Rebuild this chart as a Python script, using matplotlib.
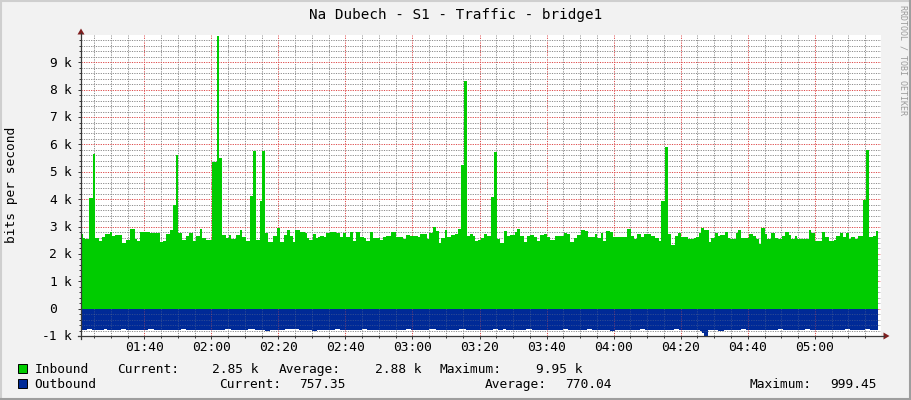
import matplotlib
matplotlib.use("Agg")
import matplotlib.pyplot as plt
import matplotlib.transforms as mtrans
from matplotlib.patches import Rectangle, Polygon
from matplotlib.lines import Line2D

# ---------------- data (minutes after midnight, values in k bits/s) -------------
in_start = [
    81.1, 81.6, 82.4, 83.5, 84.7, 85.3, 86.6, 87.4, 88.2, 89.7,
    90.4, 91.4, 93.3, 94.4, 95.6, 97.1, 97.8, 98.6, 101.6, 104.6,
    105.6, 106.4, 107.6, 108.6, 109.5, 110.2, 111.3, 112.5, 113.3, 114.5,
    115.5, 116.5, 117.2, 118.5, 120.2, 121.6, 122.3, 123.2, 124.5, 125.3,
    126.0, 127.4, 128.4, 129.2, 130.4, 131.4, 132.4, 133.2, 134.4, 135.2,
    136.1, 137.0, 138.4, 139.6, 140.4, 141.6, 142.6, 143.4, 144.4, 145.1,
    146.3, 147.8, 148.5, 149.1, 150.3, 151.1, 151.8, 152.5, 153.6, 154.3,
    155.3, 157.3, 158.3, 159.3, 160.3, 161.3, 162.3, 163.2, 164.4, 165.5,
    166.2, 167.4, 168.2, 170.2, 171.2, 172.2, 173.5, 175.0, 177.2, 178.2,
    179.2, 181.6, 182.3, 184.3, 184.9, 186.1, 187.1, 187.9, 188.6, 189.6,
    190.4, 191.6, 192.6, 193.6, 194.4, 195.4, 196.4, 197.2, 198.0, 198.7,
    199.5, 200.3, 201.2, 202.3, 203.3, 204.3, 205.2, 206.2, 207.3, 208.3,
    209.2, 210.5, 211.3, 212.2, 213.2, 214.2, 215.2, 216.1, 217.1, 218.1,
    219.1, 220.1, 221.1, 222.4, 225.2, 226.1, 227.1, 228.1, 229.1, 230.4,
    231.4, 232.4, 233.4, 234.3, 235.1, 236.1, 236.8, 237.8, 238.8, 239.8,
    241.3, 244.1, 245.1, 246.1, 247.1, 248.3, 249.1, 251.2, 252.2, 253.4,
    254.2, 255.2, 256.2, 257.2, 258.2, 259.2, 260.0, 262.2, 264.0, 264.7,
    265.4, 266.2, 267.0, 268.3, 269.1, 270.1, 271.1, 271.8, 273.1, 274.1,
    274.6, 276.4, 277.1, 278.1, 280.4, 281.6, 282.6, 283.3, 284.0, 285.2,
    285.8, 287.0, 288.2, 289.0, 290.2, 291.2, 292.2, 293.0, 294.0, 294.8,
    298.2, 299.0, 300.0, 302.1, 303.1, 304.1, 305.7, 306.4, 307.4, 308.4,
    309.4, 310.2, 310.7, 311.9, 312.9, 314.4, 315.4, 316.1, 317.4, 318.4,
]
in_vals = [
    2.73, 2.57, 2.55, 4.03, 5.65, 2.57, 2.48, 2.63, 2.73, 2.81,
    2.66, 2.69, 2.39, 2.51, 2.91, 2.55, 2.48, 2.81, 2.78, 2.45,
    2.48, 2.73, 2.87, 3.79, 5.61, 2.78, 2.51, 2.66, 2.75, 2.48,
    2.66, 2.91, 2.57, 2.51, 5.37, 9.95, 5.52, 2.69, 2.57, 2.69,
    2.55, 2.69, 2.87, 2.63, 2.48, 4.13, 5.77, 2.51, 3.93, 5.77,
    2.78, 2.45, 2.66, 2.96, 2.45, 2.69, 2.87, 2.67, 2.45, 2.87,
    2.81, 2.75, 2.57, 2.51, 2.73, 2.57, 2.63, 2.66, 2.61, 2.75,
    2.81, 2.75, 2.63, 2.78, 2.61, 2.79, 2.48, 2.81, 2.63, 2.57,
    2.48, 2.81, 2.57, 2.51, 2.63, 2.66, 2.81, 2.61, 2.55, 2.69,
    2.66, 2.61, 2.73, 2.55, 2.75, 3.00, 2.84, 2.39, 2.57, 2.87,
    2.63, 2.69, 2.73, 2.91, 5.25, 8.32, 2.66, 2.73, 2.66, 2.48,
    2.50, 2.57, 2.73, 2.67, 4.09, 5.72, 2.55, 2.41, 2.84, 2.67,
    2.71, 2.79, 2.91, 2.66, 2.45, 2.66, 2.69, 2.61, 2.47, 2.69,
    2.73, 2.61, 2.51, 2.66, 2.78, 2.73, 2.45, 2.57, 2.69, 2.87,
    2.85, 2.63, 2.61, 2.73, 2.57, 2.75, 2.48, 2.85, 2.81, 2.63,
    2.61, 2.91, 2.66, 2.55, 2.73, 2.63, 2.73, 2.67, 2.57, 2.47,
    3.93, 5.92, 2.73, 2.33, 2.66, 2.78, 2.61, 2.55, 2.57, 2.63,
    2.78, 2.94, 2.87, 2.45, 2.57, 2.75, 2.67, 2.69, 2.79, 2.57,
    2.55, 2.75, 2.87, 2.57, 2.73, 2.67, 2.53, 2.36, 2.94, 2.73,
    2.53, 2.78, 2.57, 2.55, 2.66, 2.79, 2.69, 2.55, 2.66, 2.55,
    2.87, 2.78, 2.47, 2.79, 2.63, 2.47, 2.51, 2.67, 2.75, 2.63,
    2.75, 2.55, 2.61, 2.55, 2.67, 3.97, 5.80, 2.61, 2.66, 2.84,
]
in_end = 318.9

out_start = [
    81.1, 83.0, 84.5, 88.0, 89.0, 93.0, 94.5, 99.0, 101.0, 103.0,
    106.0, 108.0, 111.0, 112.5, 118.0, 120.0, 124.0, 126.0, 131.0, 133.0,
    136.0, 137.5, 142.0, 144.0, 146.0, 150.0, 151.5, 157.0, 158.5, 165.0,
    166.5, 171.0, 173.0, 178.0, 179.5, 185.0, 187.0, 192.0, 194.0, 196.0,
    201.0, 204.0, 205.5, 207.0, 208.0, 214.0, 215.5, 225.0, 226.5, 232.0,
    233.5, 239.0, 240.5, 248.0, 249.5, 258.0, 259.5, 265.7, 266.5, 267.1,
    268.2, 271.0, 273.0, 278.0, 279.5, 289.0, 290.5, 297.0, 298.5, 309.0,
    310.5, 315.0, 316.5,
]
out_vals = [
    0.77, 0.74, 0.77, 0.75, 0.78, 0.74, 0.77, 0.78, 0.75, 0.77,
    0.76, 0.78, 0.75, 0.77, 0.79, 0.77, 0.74, 0.77, 0.73, 0.77,
    0.80, 0.77, 0.73, 0.75, 0.77, 0.80, 0.77, 0.75, 0.77, 0.75,
    0.78, 0.76, 0.77, 0.74, 0.77, 0.75, 0.78, 0.77, 0.75, 0.77,
    0.77, 0.74, 0.77, 0.74, 0.77, 0.74, 0.77, 0.75, 0.77, 0.74,
    0.77, 0.80, 0.77, 0.74, 0.77, 0.75, 0.78, 0.82, 0.90, 1.00,
    0.77, 0.80, 0.77, 0.74, 0.77, 0.75, 0.77, 0.74, 0.77, 0.75,
    0.77, 0.74, 0.76,
]
out_end = 318.9

x_major = [100, 120, 140, 160, 180, 200, 220, 240, 260, 280, 300]
x_labels = ["01:40", "02:00", "02:20", "02:40", "03:00", "03:20",
            "03:40", "04:00", "04:20", "04:40", "05:00"]
y_ticks = [-1, 0, 1, 2, 3, 4, 5, 6, 7, 8, 9]
y_labels = ["-1 k", "0", "1 k", "2 k", "3 k", "4 k", "5 k", "6 k", "7 k", "8 k", "9 k"]

title = "Na Dubech - S1 - Traffic - bridge1"
y_title = "bits per second"
watermark = "RRDTOOL / TOBI OETIKER"
series_names = ["Inbound", "Outbound"]
in_stats = ["2.85 k", "2.88 k", "9.95 k"]
out_stats = ["757.35", "770.04", "999.45"]

# ---------------- styling ----------------
W, H = 911, 400
FONT = "DejaVu Sans Mono"
FS = 9.3
C_IN = "#00CC00"
C_OUT = "#002A97"
C_BACK = "#F2F2F2"
C_AXIS = "#3a3a3a"
C_ARROW = "#801F1F"
PX = 0.72  # one pixel in points
C_MINOR = (0.56, 0.56, 0.56, 0.30)
C_MAJOR = (0.87, 0.31, 0.31, 0.42)
DOT = (0, (1.2, 1.2))


def fx(px):
    return px / W


def fy(py):
    return 1 - py / H


fig = plt.figure(figsize=(W / 100, H / 100), dpi=100, facecolor=C_BACK)

ax_l, ax_r, ax_t, ax_b = 81, 881, 35.45, 336.08
ax = fig.add_axes([fx(ax_l), fy(ax_b), (ax_r - ax_l) / W, (ax_b - ax_t) / H])
ax.set_facecolor("white")
ax.set_xlim(81.12, 319.75)
ax.set_ylim(-1.0, 9.98)

ax.stairs(in_vals, in_start + [in_end], fill=True, color=C_IN, baseline=0,
          lw=0, zorder=2)
out_patch = ax.stairs([-v for v in out_vals], out_start + [out_end], fill=True,
                      color=C_OUT, baseline=0, lw=0, zorder=2)

# grid: below the data, plus a copy visible through the outbound area
x_minor = [m for m in range(85, 320, 5) if m not in x_major]
y_minor = [v / 5 for v in range(-5, 50) if v % 5 != 0]
ax.set_xticks(x_major)
ax.set_xticks(x_minor, minor=True)
ax.set_yticks(y_ticks)
ax.set_yticks(y_minor, minor=True)
ax.set_axisbelow(True)
ax.grid(which="minor", color=C_MINOR, linestyle=DOT, lw=PX)
ax.grid(which="major", color=C_MAJOR, linestyle=DOT, lw=PX)
for pos_list, col in [(x_minor, C_MINOR), (x_major, C_MAJOR)]:
    for xv in pos_list:
        ln = ax.axvline(xv, color=col, linestyle=DOT, lw=PX, zorder=3)
        ln.set_clip_path(out_patch)
for pos_list, col in [(y_minor, C_MINOR), (y_ticks, C_MAJOR)]:
    for yv in pos_list:
        if yv < 0:
            ln = ax.axhline(yv, color=col, linestyle=DOT, lw=PX, zorder=3)
            ln.set_clip_path(out_patch)

for s in ax.spines.values():
    s.set_visible(False)
ax.tick_params(which="both", direction="out", colors=C_AXIS, labelleft=False,
               labelbottom=False, width=PX)
ax.tick_params(which="major", length=2.2)
ax.tick_params(which="minor", length=1.4)

# axis lines & arrows
fig.add_artist(Line2D([fx(81), fx(81)], [fy(339), fy(33)], color=C_AXIS, lw=0.9))
fig.add_artist(Line2D([fx(78), fx(884)], [fy(336), fy(336)], color=C_AXIS, lw=0.9))
fig.add_artist(Polygon([[fx(81), fy(28.5)], [fx(77.5), fy(34.5)], [fx(84.5), fy(34.5)]],
                       closed=True, color=C_ARROW, lw=0))
fig.add_artist(Polygon([[fx(889.5), fy(336)], [fx(883.5), fy(332.5)], [fx(883.5), fy(339.5)]],
                       closed=True, color=C_ARROW, lw=0))

# y tick labels: number right-aligned, unit left-aligned
ytr = mtrans.offset_copy(mtrans.blended_transform_factory(fig.transFigure, ax.transData),
                         fig=fig, y=-4.4, units="dots")
for v, lab in zip(y_ticks, y_labels):
    parts = lab.split(" ")
    ax.text(fx(57), v, parts[0], transform=ytr, ha="right", va="baseline",
            family=FONT, size=FS, color="black")
    if len(parts) > 1:
        ax.text(fx(63.8), v, parts[1], transform=ytr, ha="left", va="baseline",
                family=FONT, size=FS, color="black")

# x tick labels
xtr = mtrans.blended_transform_factory(ax.transData, fig.transFigure)
for v, lab in zip(x_major, x_labels):
    ax.text(v, fy(351), lab, transform=xtr, ha="center", va="baseline",
            family=FONT, size=FS, color="black")

# title, axis title, watermark
fig.text(0.5, fy(19), title, ha="center", va="baseline", family=FONT, size=10.3)
fig.text(fx(12), fy(185), y_title, ha="center", va="center", rotation=90,
         family=FONT, size=FS)
fig.text(fx(903), fy(60), watermark, ha="center", va="center", rotation=270,
         family=FONT, size=6.0, color="#9a9a9a")

# legend
for (py0, col) in [(363.5, C_IN), (379.3, C_OUT)]:
    fig.add_artist(Rectangle((fx(17.5), fy(py0 + 9)), 9 / W, 9 / H, facecolor=col,
                             edgecolor="black", lw=0.7))
row1 = [(34.7, series_names[0]), (116.7, "Current:"), (212.3, in_stats[0]),
        (279, "Average:"), (375, in_stats[1]), (440, "Maximum:"), (536, in_stats[2])]
row2 = [(34.7, series_names[1]), (219.6, "Current:"), (299, out_stats[0]),
        (485, "Average:"), (565, out_stats[1]), (749.5, "Maximum:"), (830, out_stats[2])]
for row, base in [(row1, 372.7), (row2, 388.3)]:
    for px, s in row:
        fig.text(fx(px), fy(base), s, ha="left", va="baseline", family=FONT, size=FS)

# 3D frame
fig.add_artist(Line2D([0, 1], [fy(0.5), fy(0.5)], color="#CFCFCF", lw=1.5))
fig.add_artist(Line2D([fx(0.5), fx(0.5)], [0, 1], color="#CFCFCF", lw=1.5))
fig.add_artist(Line2D([0, 1], [fy(399.3), fy(399.3)], color="#9E9E9E", lw=1.5))
fig.add_artist(Line2D([fx(910.3), fx(910.3)], [0, 1], color="#9E9E9E", lw=1.5))

fig.savefig("out.png", dpi=100, facecolor=C_BACK)
